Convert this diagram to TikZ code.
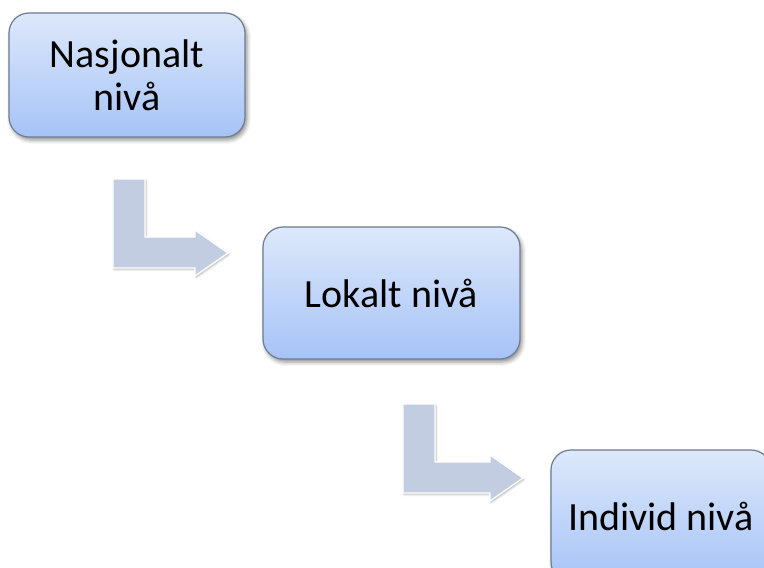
\documentclass[tikz,border=0pt]{standalone}
\usepackage{fontspec}
\setmainfont{Carlito}
\usepackage{tikz}
\usetikzlibrary{shadows.blur}

\definecolor{boxtop}{HTML}{DDE8FB}
\definecolor{boxbottom}{HTML}{A6C3F7}
\definecolor{boxline}{HTML}{6E7C90}
\definecolor{arrowfill}{HTML}{C2CDE1}

\tikzset{
  level/.style={draw=boxline, line width=1.2pt, rounded corners=20pt,
    top color=boxtop, bottom color=boxbottom, align=center,
    font=\fontsize{40}{43}\selectfont,
    blur shadow={shadow xshift=2pt, shadow yshift=-3pt,
      shadow blur radius=4pt, shadow opacity=45}},
  bent/.style={fill=arrowfill, draw=white, line width=1.3pt,
    blur shadow={shadow xshift=1pt, shadow yshift=-1.5pt,
      shadow blur radius=2pt, shadow opacity=30}}
}

% bent arrow: top left corner, length of the foot
\newcommand{\bentarrow}[3]{%
  \path[bent] (#1,#2) -- ++(32,0) -- ++(0,58) -- ++(#3-32,0) -- ++(0,-7)
    -- ++(33,23) -- ++(-33,23) -- ++(0,-8) -- ++(-#3,0) -- cycle;}

\begin{document}
\begin{tikzpicture}[x=1pt, y=-1pt]
\useasboundingbox (0,0) rectangle (764,568);
\clip (0,0) rectangle (764,568);
\bentarrow{113}{179}{82}
\bentarrow{403}{404}{87}
\path (127,75) node (N) [level, minimum width=236pt, minimum height=124pt] {Nasjonalt\\niv\aa};
\path (391.5,293) node (L) [level, minimum width=257pt, minimum height=132pt] {Lokalt niv\aa};
\path (661,516) node (I) [level, minimum width=220pt, minimum height=132pt] {Individ niv\aa};
\end{tikzpicture}
\end{document}
